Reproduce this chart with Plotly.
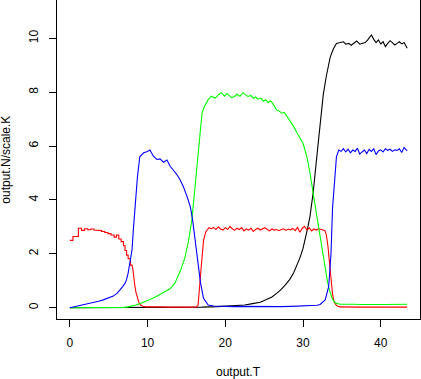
import plotly.graph_objects as go

# red population (stair-like at the start)
red_t = [0.0, 0.4, 0.4, 1.1, 1.1, 1.5, 1.5, 1.9, 1.9, 2.3,
         2.3, 2.7, 2.7, 3.1, 3.1, 3.6, 3.6, 4.1, 4.1, 4.5,
         4.5, 4.9, 4.9, 5.3, 5.3, 5.7, 5.7, 6.0, 6.0, 6.3,
         6.3, 6.6, 6.6, 6.9, 6.9, 7.1, 7.1, 7.3, 7.3, 7.5,
         7.5, 7.8, 7.8, 8.0, 8.1, 8.2, 8.35, 8.5, 8.7, 8.9,
         9.1, 9.4, 9.8, 10.5, 11.5, 12.5, 13.5, 14.5, 15.5, 16.3,
         16.5, 16.7, 16.9, 17.2, 17.5, 17.9, 18.2, 18.5, 18.8, 19.1,
         19.4, 19.7, 20.0, 20.3, 20.6, 20.9, 21.2, 21.5, 21.8, 22.1,
         22.4, 22.7, 23.0, 23.3, 23.6, 23.9, 24.2, 24.5, 24.8, 25.1,
         25.4, 25.7, 26.0, 26.3, 26.6, 26.9, 27.2, 27.5, 27.8, 28.1,
         28.4, 28.7, 29.0, 29.3, 29.6, 29.9, 30.2, 30.5, 30.8, 31.1,
         31.4, 31.7, 32.0, 32.3, 32.6, 32.8, 33.0, 33.2, 33.4, 33.6,
         33.8, 34.0, 34.3, 34.7, 35.5, 36.5, 37.5, 38.5, 39.5, 40.5,
         41.5, 42.5, 43.4]
red_n = [2.50, 2.50, 2.64, 2.64, 2.95, 2.95, 2.87, 2.87, 2.93, 2.93,
         2.89, 2.89, 2.92, 2.92, 2.88, 2.88, 2.86, 2.86, 2.83, 2.83,
         2.79, 2.79, 2.75, 2.75, 2.70, 2.70, 2.62, 2.62, 2.70, 2.70,
         2.55, 2.55, 2.45, 2.45, 2.30, 2.30, 2.12, 2.12, 1.95, 1.95,
         1.82, 1.82, 1.58, 1.58, 1.45, 1.15, 0.85, 0.58, 0.33, 0.18,
         0.10, 0.05, 0.03, 0.02, 0.03, 0.02, 0.03, 0.02, 0.02, 0.03,
         0.10, 0.70, 1.50, 2.50, 2.82, 2.97, 2.93, 2.98, 2.90, 3.00,
         2.92, 2.88, 2.97, 2.90, 3.02, 2.93, 2.87, 2.95, 2.90, 2.97,
         2.85, 2.92, 2.88, 2.95, 2.83, 2.90, 2.95, 2.88, 2.93, 2.97,
         2.90, 2.85, 2.92, 2.88, 2.90, 2.86, 2.90, 2.93, 2.87, 2.92,
         2.89, 2.94, 2.86, 2.98, 2.80, 2.95, 3.02, 2.88, 2.96, 2.85,
         2.92, 2.88, 2.93, 2.90, 2.88, 2.87, 2.70, 2.30, 1.70, 1.05,
         0.50, 0.22, 0.08, 0.03, 0.02, 0.03, 0.02, 0.02, 0.03, 0.02,
         0.02, 0.03, 0.02]

green_t = [0.0, 3.0, 6.0, 7.0, 7.5, 8.0, 8.5, 9.0, 9.7, 10.3,
           11.0, 11.6, 12.3, 12.9, 13.5, 14.2, 14.8, 15.25, 15.7, 16.1,
           16.5, 16.8, 17.0, 17.2, 17.4, 17.8, 18.2, 18.5, 18.7, 19.1,
           19.5, 19.9, 20.2, 20.5, 20.8, 21.2, 21.5, 21.9, 22.3, 22.6,
           22.9, 23.3, 23.6, 23.9, 24.2, 24.6, 24.9, 25.2, 25.5, 25.8,
           26.0, 26.3, 26.6, 26.9, 27.3, 27.6, 27.9, 28.3, 28.6, 28.8,
           29.2, 29.6, 30.0, 30.5, 30.9, 31.3, 31.7, 32.2, 32.5, 32.8,
           33.1, 33.3, 33.7, 34.0, 34.3, 34.8, 35.5, 36.5, 37.5, 38.5,
           39.5, 40.5, 41.5, 42.5, 43.4]
green_n = [0.0, 0.0, 0.0, 0.01, 0.03, 0.06, 0.10, 0.15, 0.22, 0.30,
           0.40, 0.50, 0.60, 0.70, 0.90, 1.35, 1.85, 2.45, 3.25, 4.45,
           5.90, 6.80, 7.20, 7.40, 7.52, 7.72, 7.85, 7.80, 7.78, 7.90,
           7.98, 7.85, 7.95, 7.88, 7.80, 7.84, 7.92, 7.85, 7.98, 7.90,
           7.84, 7.88, 7.77, 7.82, 7.74, 7.78, 7.66, 7.72, 7.61, 7.68,
           7.62, 7.48, 7.34, 7.30, 7.22, 7.25, 7.12, 6.97, 6.85, 6.72,
           6.50, 6.32, 6.10, 5.60, 5.00, 4.25, 3.50, 2.70, 2.10, 1.60,
           1.05, 0.75, 0.38, 0.22, 0.16, 0.13, 0.12, 0.13, 0.12, 0.13,
           0.12, 0.12, 0.13, 0.12, 0.13]

blue_t = [0.0, 0.5, 1.3, 2.2, 3.0, 3.7, 4.3, 5.0, 5.6, 6.1,
          6.5, 6.8, 7.1, 7.3, 7.5, 7.75, 8.0, 8.2, 8.4, 8.7,
          9.0, 9.5, 10.0, 10.3, 10.75, 11.2, 11.6, 12.05, 12.5, 12.9,
          13.3, 13.75, 14.2, 14.6, 15.05, 15.5, 15.8, 16.1, 16.4, 16.8,
          17.2, 17.8, 18.5, 19.5, 21.0, 22.5, 24.0, 25.5, 27.0, 28.5,
          30.0, 31.0, 31.8, 32.2, 32.85, 33.3, 33.6, 33.8, 34.1, 34.3,
          34.6, 34.9, 35.2, 35.5, 35.8, 36.1, 36.4, 36.7, 37.0, 37.3,
          37.6, 37.9, 38.2, 38.5, 38.8, 39.1, 39.4, 39.7, 40.0, 40.3,
          40.6, 40.9, 41.2, 41.5, 41.8, 42.1, 42.4, 42.7, 43.0, 43.4]
blue_n = [0.0, 0.03, 0.10, 0.14, 0.19, 0.24, 0.29, 0.36, 0.43, 0.54,
          0.66, 0.78, 0.90, 1.05, 1.28, 1.65, 2.14, 3.00, 3.87, 4.86,
          5.60, 5.75, 5.80, 5.85, 5.62, 5.50, 5.52, 5.40, 5.48, 5.25,
          5.11, 4.95, 4.74, 4.50, 4.15, 3.75, 3.25, 2.55, 1.80, 0.95,
          0.35, 0.10, 0.06, 0.05, 0.04, 0.05, 0.04, 0.05, 0.04, 0.05,
          0.06, 0.07, 0.09, 0.12, 0.29, 0.78, 2.00, 3.70, 5.10, 5.60,
          5.85, 5.80, 5.90, 5.78, 5.88, 5.75, 5.85, 5.80, 5.92, 5.70,
          5.78, 5.85, 5.72, 5.88, 5.80, 5.90, 5.68, 5.82, 5.86, 5.78,
          5.90, 5.84, 5.88, 5.80, 5.86, 5.84, 5.90, 5.76, 5.95, 5.82]

black_t = [0.0, 5.0, 10.0, 14.0, 17.0, 19.0, 21.0, 22.5, 23.5, 24.5,
           25.3, 26.0, 26.6, 27.1, 27.7, 28.3, 28.8, 29.2, 29.6, 30.0,
           30.3, 30.6, 30.9, 31.3, 31.7, 32.2, 32.6, 33.0, 33.5, 33.9,
           34.3, 34.8, 35.2, 35.5, 35.9, 36.2, 36.6, 36.9, 37.3, 37.6,
           38.0, 38.3, 38.6, 38.8, 39.1, 39.4, 39.7, 40.0, 40.3, 40.6,
           40.9, 41.2, 41.5, 41.8, 42.1, 42.4, 42.7, 43.0, 43.4]
black_n = [0.0, 0.0, 0.0, 0.01, 0.02, 0.04, 0.06, 0.10, 0.15, 0.20,
           0.30, 0.40, 0.53, 0.65, 0.84, 1.05, 1.30, 1.55, 1.85, 2.20,
           2.55, 2.95, 3.40, 4.25, 5.40, 6.90, 7.90, 8.60, 9.30, 9.60,
           9.81, 9.84, 9.87, 9.78, 9.81, 9.74, 9.84, 9.90, 9.78, 9.81,
           9.84, 9.93, 10.03, 10.12, 9.96, 9.84, 9.94, 9.79, 9.87, 9.69,
           9.81, 9.91, 9.84, 9.75, 9.81, 9.87, 9.79, 9.84, 9.63]

x_ticks = [0, 10, 20, 30, 40]
y_ticks = [0, 2, 4, 6, 8, 10]

fig = go.Figure()
for t, n, col in [(black_t, black_n, "black"),
                  (red_t, red_n, "#FF0000"),
                  (green_t, green_n, "#00FF00"),
                  (blue_t, blue_n, "#0000FF")]:
    fig.add_trace(go.Scatter(x=t, y=n, mode="lines",
                             line=dict(color=col, width=1.1),
                             showlegend=False, hoverinfo="skip"))

font = dict(family="Liberation Sans, Arial, sans-serif", size=12, color="black")

fig.update_layout(
    width=421, height=379,
    margin=dict(l=57, r=1, t=0, b=60, autoexpand=False),
    paper_bgcolor="white", plot_bgcolor="white",
    font=font,
    xaxis=dict(range=[-1.65, 45.05], tickvals=x_ticks, ticks="outside",
               ticklen=7, tickcolor="black", showline=True, linecolor="black",
               linewidth=1, showgrid=False, zeroline=False,
               ticklabelstandoff=6),
    yaxis=dict(range=[-0.42, 11.42], tickvals=y_ticks, ticks="outside",
               ticklen=7, tickcolor="black", showline=True, mirror=True,
               linecolor="black", linewidth=1, showgrid=False,
               zeroline=False, tickangle=-90, ticklabelstandoff=6),
    annotations=[
        dict(text="output.T", xref="paper", yref="paper", x=0.5, y=-0.166,
             xanchor="center", yanchor="middle", showarrow=False, font=font),
        dict(text="output.N/scale.K", xref="paper", yref="paper", x=-0.139,
             y=0.498, xanchor="center", yanchor="middle", textangle=-90,
             showarrow=False, font=font),
    ],
)

# page has a default 8px body margin; drop it so the figure sits at 0,0
fig.write_html("out.html", config={"displayModeBar": False},
               post_script="document.body.style.margin='0px';")
